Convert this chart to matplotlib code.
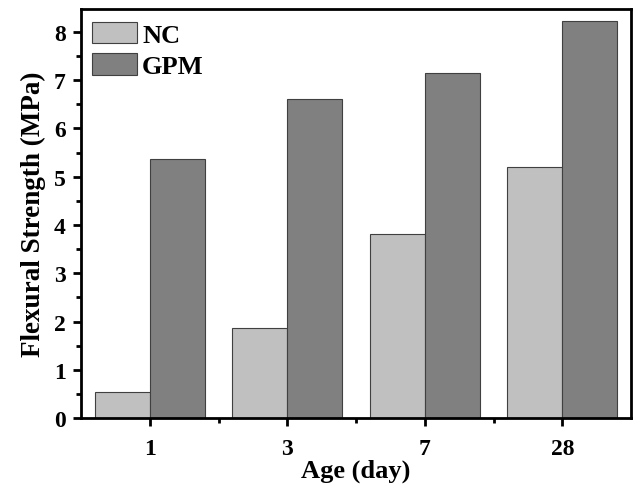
import matplotlib.pyplot as plt
import numpy as np

plt.rcParams['font.family'] = ['Liberation Serif', 'DejaVu Serif']
plt.rcParams['font.weight'] = 'bold'

ages = ['1', '3', '7', '28']
nc = [0.53, 1.86, 3.82, 5.21]
gpm = [5.37, 6.62, 7.14, 8.22]

x = np.arange(len(ages))
w = 0.4

fig = plt.figure(figsize=(6.33, 4.89), dpi=100)
ax = fig.add_axes([0.128, 0.143, 0.869, 0.837])

ax.bar(x - w/2, nc, w, color='#c0c0c0', edgecolor='#404040', linewidth=0.8, label='NC')
ax.bar(x + w/2, gpm, w, color='#808080', edgecolor='#404040', linewidth=0.8, label='GPM')

ax.set_xlim(-0.5, 3.5)
ax.set_ylim(0, 8.48)
ax.set_xticks(x)
ax.set_xticklabels(ages)
ax.set_xticks(x[:-1] + 0.5, minor=True)
ax.set_yticks(range(0, 9))
ax.set_yticks(np.arange(0.5, 8.5, 1), minor=True)

for s in ax.spines.values():
    s.set_linewidth(2)
ax.tick_params(which='major', direction='out', length=6, width=2, labelsize=17, pad=5)
ax.tick_params(which='minor', direction='out', length=3.5, width=2)
ax.tick_params(axis='x', which='major', pad=8)

ax.set_xlabel('Age (day)', fontsize=19, fontweight='bold', labelpad=0)
ax.set_ylabel('Flexural Strength (MPa)', fontsize=19.5, fontweight='bold', labelpad=6)

ax.legend(loc='upper left', bbox_to_anchor=(0.02, 0.968), frameon=False, fontsize=19,
          handlelength=1.7, handleheight=0.88, labelspacing=0.25, borderpad=0,
          borderaxespad=0, handletextpad=0.2)

fig.savefig('out.png')
